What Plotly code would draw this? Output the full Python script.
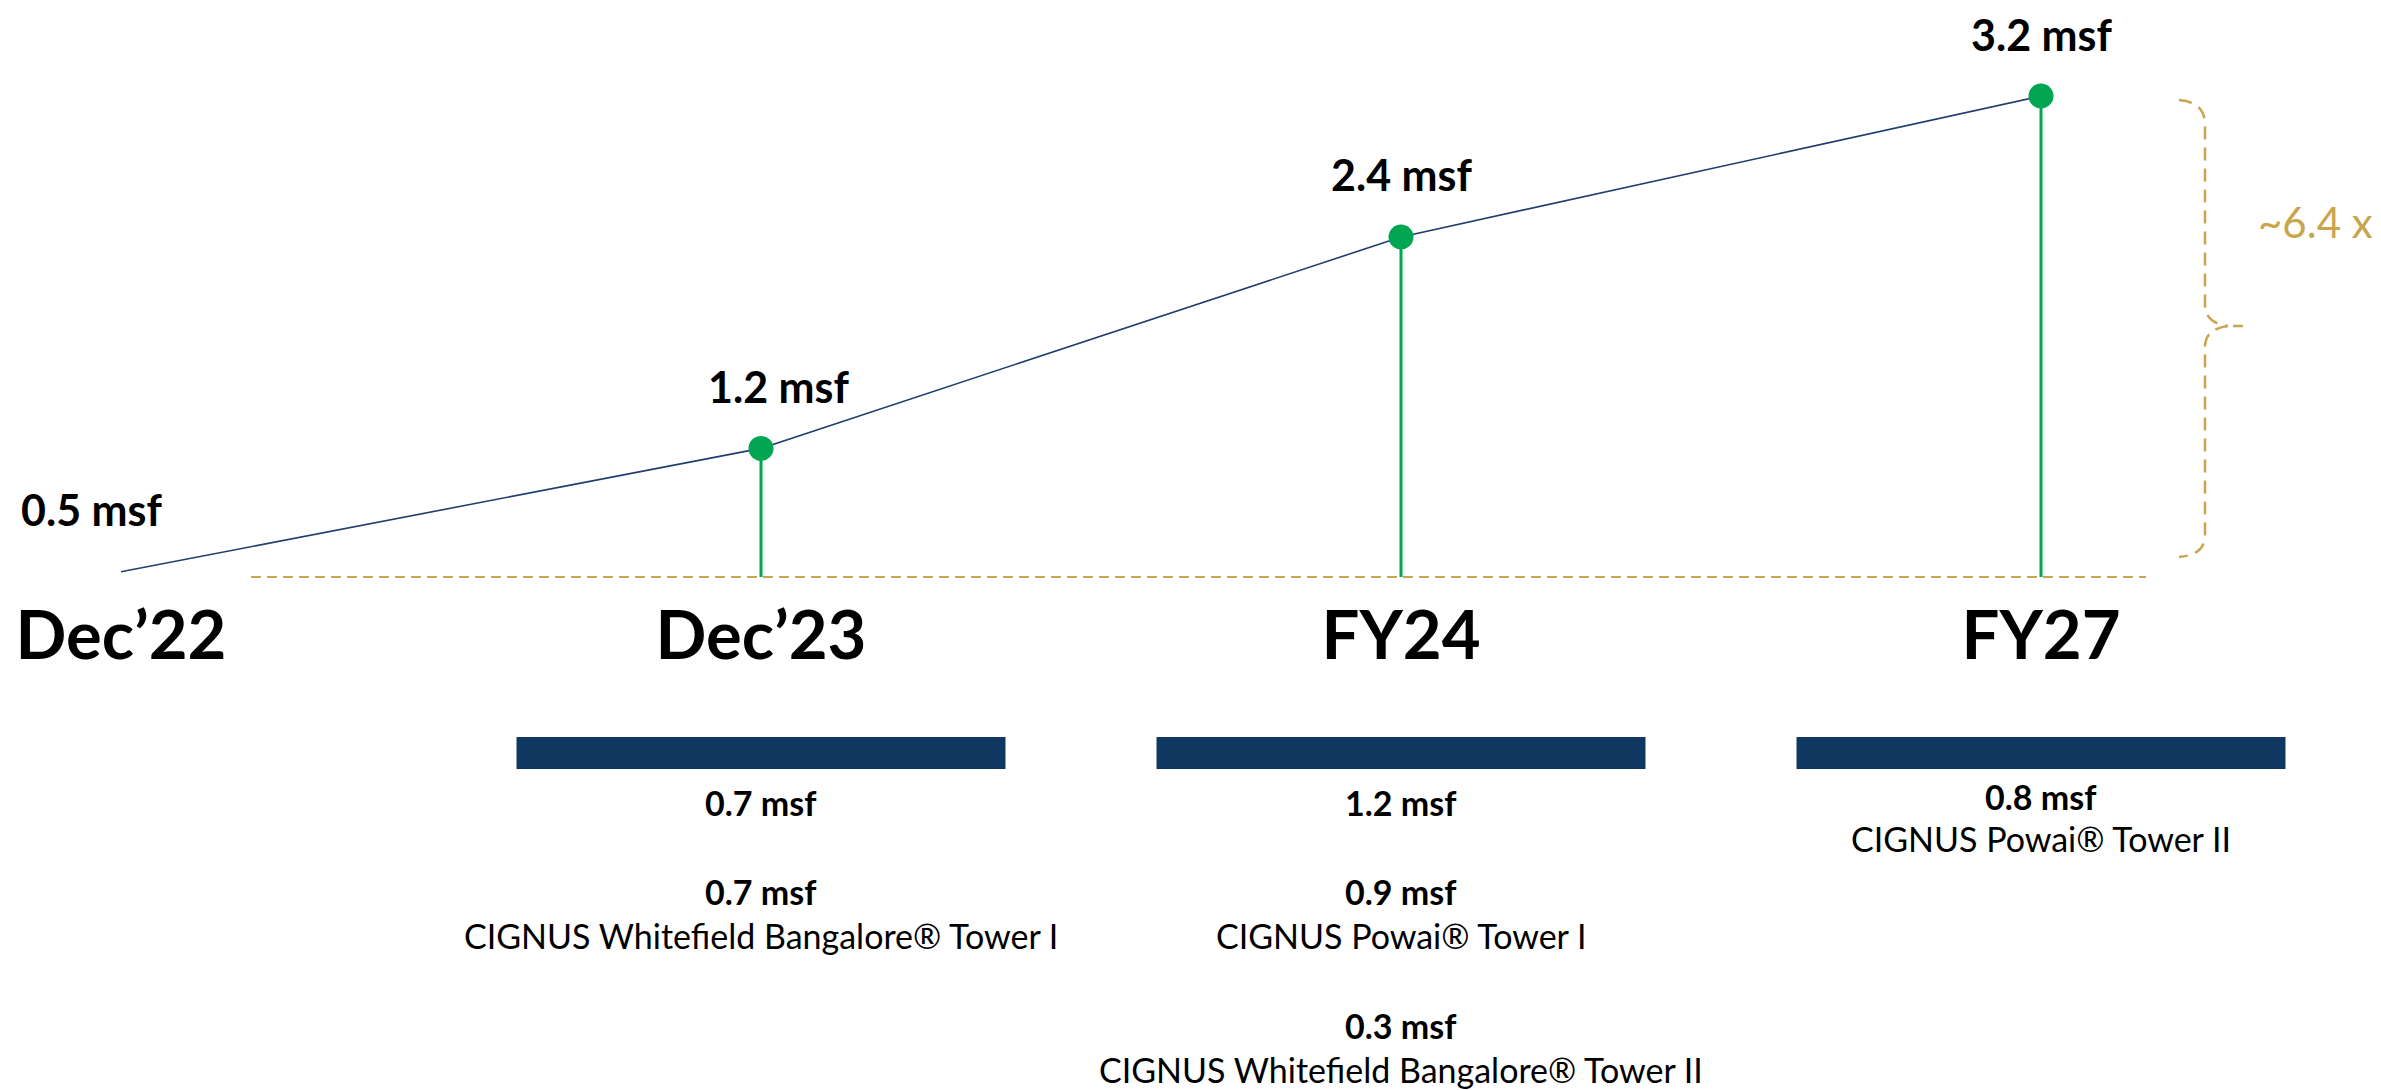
import plotly.graph_objects as go

# ---------------- data ----------------
categories = ["Dec’22", "Dec’23", "FY24", "FY27"]
cumulative_msf = [0.5, 1.2, 2.4, 3.2]
addition_msf = [None, 0.7, 1.2, 0.8]
project_msf = [[], [0.7], [0.9, 0.3], [None]]
project_names = [
    [],
    ["CIGNUS Whitefield Bangalore® Tower I"],
    ["CIGNUS Powai® Tower I", "CIGNUS Whitefield Bangalore® Tower II"],
    ["CIGNUS Powai® Tower II"],
]
growth_label = "~6.4 x"

# ---------------- style ----------------
W, H = 2381, 1090
FONT = "Lato"
GREEN = "#00A651"
NAVY_LINE = "#1F3F6E"
NAVY_BAR = "#10375F"
GOLD = "#C9A54E"

BASE_PX = 577          # pixel row of the dashed baseline / x axis
UNIT_PX = 640          # pixel spacing between categories
FIRST_PX = 121         # pixel column of first category


def pxx(x):
    return x / W


def pxy(y):
    return 1 - y / H


y_min, y_max = 0.47, 3.745
x_lo = -FIRST_PX / UNIT_PX
x_hi = (W - FIRST_PX) / UNIT_PX

fig = go.Figure()

# sloped growth line
fig.add_trace(go.Scatter(
    x=categories, y=cumulative_msf, mode="lines",
    line=dict(color=NAVY_LINE, width=1.6), hoverinfo="skip", showlegend=False,
))

# dots with stems down to baseline
pts_x = categories[1:]
pts_y = cumulative_msf[1:]
fig.add_trace(go.Scatter(
    x=pts_x, y=pts_y, mode="markers",
    marker=dict(color=GREEN, size=25),
    error_y=dict(type="data", symmetric=False, array=[0] * len(pts_y),
                 arrayminus=[v - y_min for v in pts_y],
                 color=GREEN, thickness=3, width=0),
    showlegend=False,
))

annotations = []
# value labels above points
for i, (c, v) in enumerate(zip(categories, cumulative_msf)):
    annotations.append(dict(
        x=c, y=v, xref="x", yref="y", text=f"<b>{v} msf</b>",
        showarrow=False, yshift=62, xshift=(-30 if i == 0 else (17 if i == 1 else 0)),
        font=dict(family=FONT, size=43, color="#000000"),
        xanchor="center", yanchor="middle",
    ))

shapes = []
# dashed baseline
shapes.append(dict(type="line", xref="paper", yref="paper",
                   x0=pxx(251), x1=pxx(2146), y0=pxy(BASE_PX), y1=pxy(BASE_PX),
                   line=dict(color=GOLD, width=2, dash="10px,6px"), layer="below"))

# curly brace
def P(x, y):
    return f"{pxx(x):.5f},{pxy(y):.5f}"

brace = (f"M {P(2179,100)} Q {P(2205,102)} {P(2205,125)} L {P(2205,305)} "
         f"Q {P(2205,323)} {P(2228,326)} "
         f"M {P(2228,326)} Q {P(2205,329)} {P(2205,347)} L {P(2205,535)} "
         f"Q {P(2205,555)} {P(2179,557)} "
         f"M {P(2233,326)} L {P(2243,326)}")
shapes.append(dict(type="path", xref="paper", yref="paper", path=brace,
                   line=dict(color=GOLD, width=2.5, dash="13px,8px")))

annotations.append(dict(
    x=pxx(2256), y=pxy(222), xref="paper", yref="paper", text=growth_label,
    showarrow=False, xanchor="left", yanchor="middle",
    font=dict(family=FONT, size=42, color=GOLD),
))

# bottom bars + texts
BAR_HALF = 0.382
for i, c in enumerate(categories):
    if addition_msf[i] is None:
        continue
    shapes.append(dict(type="rect", xref="x", yref="paper",
                       x0=i - BAR_HALF, x1=i + BAR_HALF,
                       y0=pxy(769), y1=pxy(737),
                       fillcolor=NAVY_BAR, line=dict(width=0)))
    lines = []
    if project_msf[i] and project_msf[i][0] is None:
        lines.append((f"<b>{addition_msf[i]} msf</b>", 796))
        lines.append((project_names[i][0], 838))
    else:
        lines.append((f"<b>{addition_msf[i]} msf</b>", 802))
        for k, (m, n) in enumerate(zip(project_msf[i], project_names[i])):
            top = 891 + k * 134
            lines.append((f"<b>{m} msf</b>", top))
            lines.append((n, top + 44))
    for txt, yy in lines:
        annotations.append(dict(
            x=i, y=pxy(yy), xref="x", yref="paper", text=txt, showarrow=False,
            xanchor="center", yanchor="middle",
            font=dict(family=FONT, size=34, color="#000000"),
        ))

fig.update_layout(
    width=W, height=H,
    margin=dict(l=0, r=0, t=0, b=0),
    paper_bgcolor="white", plot_bgcolor="white",
    showlegend=False,
    xaxis=dict(type="category", range=[x_lo, x_hi], showgrid=False, zeroline=False,
               showline=False, ticks="", tickfont=dict(family=FONT, size=67, color="#000000", weight=700),
               ticklabelstandoff=14, fixedrange=True),
    yaxis=dict(range=[y_min, y_max], domain=[1 - BASE_PX / H, 1], visible=False,
               fixedrange=True),
    shapes=shapes,
    annotations=annotations,
)

fig.write_html("out.html")
